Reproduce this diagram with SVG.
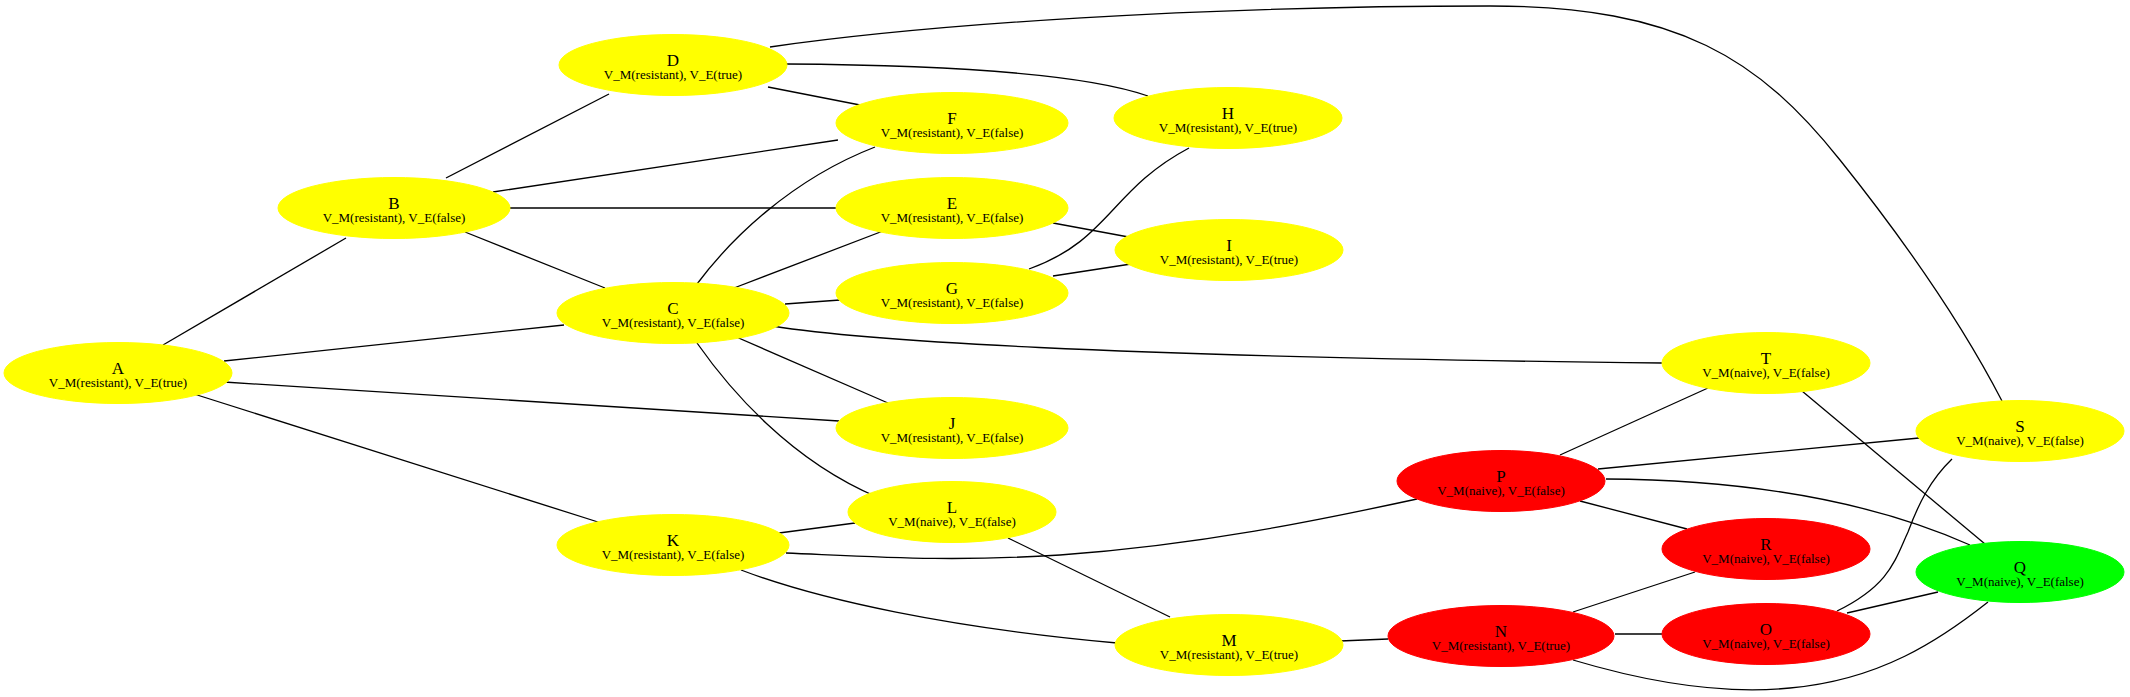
<svg xmlns="http://www.w3.org/2000/svg" width="2130" height="697" viewBox="0 0 2130 697">
<style>
.e{fill:none;stroke:#000;stroke-width:1.3}
.y{fill:#ffff00;stroke:#ffff00}
.r{fill:#ff0000;stroke:#ff0000}
.g{fill:#00ff00;stroke:#00ff00}
.t{font-family:"Liberation Serif","Times New Roman",serif;font-size:17px;text-anchor:middle;fill:#000}
.s{font-family:"Liberation Serif","Times New Roman",serif;font-size:13px;text-anchor:middle;fill:#000}
</style>
<rect width="2130" height="697" fill="#fff"/>
<g id="edges">
<path class="e" d="M163,345 L346,238"/>
<path class="e" d="M224,361 L564,325"/>
<path class="e" d="M224,382 L839,421"/>
<path class="e" d="M194,394 L598,522"/>
<path class="e" d="M446,178 L609,94"/>
<path class="e" d="M493,192 L838,140"/>
<path class="e" d="M510,208 L836,208"/>
<path class="e" d="M465,232 L605,288"/>
<path class="e" d="M768,87 L860,105"/>
<path class="e" d="M786,64 C930,65 1080,72 1148,96"/>
<path class="e" d="M770,47 C930,24 1200,6 1490,6 C1680,6 1760,60 1840,160 C1900,235 1960,320 2002,401"/>
<path class="e" d="M697,284 C730,240 790,180 875,147"/>
<path class="e" d="M734,288 L883,231"/>
<path class="e" d="M785,304 L840,300"/>
<path class="e" d="M772,326 C860,340 1100,357 1662,363"/>
<path class="e" d="M734,336 L888,403"/>
<path class="e" d="M697,343 C730,390 790,460 877,497"/>
<path class="e" d="M1053,223 L1134,238"/>
<path class="e" d="M1029,269 C1110,240 1110,190 1189,148"/>
<path class="e" d="M1053,276 L1131,264"/>
<path class="e" d="M779,533 L855,523"/>
<path class="e" d="M786,553 C880,557 950,562 1060,555 C1200,545 1320,520 1417,499"/>
<path class="e" d="M741,570 C820,600 950,628 1117,643"/>
<path class="e" d="M1008,538 L1170,617"/>
<path class="e" d="M1340,641 L1388,639"/>
<path class="e" d="M1573,612 L1695,572"/>
<path class="e" d="M1615,634 L1662,634"/>
<path class="e" d="M1573,660 C1640,680 1720,695 1790,688 C1880,680 1940,640 1988,602"/>
<path class="e" d="M1560,455 L1708,388"/>
<path class="e" d="M1598,469 L1919,438"/>
<path class="e" d="M1606,479 C1760,480 1880,505 1970,545"/>
<path class="e" d="M1580,501 L1687,529"/>
<path class="e" d="M1802,391 L1985,544"/>
<path class="e" d="M1837,611 C1890,585 1895,560 1908,532 C1918,505 1930,480 1952,459"/>
<path class="e" d="M1847,613 L1938,592"/>
</g>
<g id="A"><ellipse class="y" cx="118" cy="373" rx="114" ry="30.5"/><text class="t" x="118" y="374">A</text><text class="s" x="118" y="387">V_M(resistant), V_E(true)</text></g>
<g id="B"><ellipse class="y" cx="394" cy="208" rx="116" ry="30.5"/><text class="t" x="394" y="209">B</text><text class="s" x="394" y="222">V_M(resistant), V_E(false)</text></g>
<g id="C"><ellipse class="y" cx="673" cy="313" rx="116" ry="30.5"/><text class="t" x="673" y="314">C</text><text class="s" x="673" y="327">V_M(resistant), V_E(false)</text></g>
<g id="D"><ellipse class="y" cx="673" cy="65" rx="114" ry="30.5"/><text class="t" x="673" y="66">D</text><text class="s" x="673" y="79">V_M(resistant), V_E(true)</text></g>
<g id="E"><ellipse class="y" cx="952" cy="208" rx="116" ry="30.5"/><text class="t" x="952" y="209">E</text><text class="s" x="952" y="222">V_M(resistant), V_E(false)</text></g>
<g id="F"><ellipse class="y" cx="952" cy="123" rx="116" ry="30.5"/><text class="t" x="952" y="124">F</text><text class="s" x="952" y="137">V_M(resistant), V_E(false)</text></g>
<g id="G"><ellipse class="y" cx="952" cy="293" rx="116" ry="30.5"/><text class="t" x="952" y="294">G</text><text class="s" x="952" y="307">V_M(resistant), V_E(false)</text></g>
<g id="H"><ellipse class="y" cx="1228" cy="118" rx="114" ry="30.5"/><text class="t" x="1228" y="119">H</text><text class="s" x="1228" y="132">V_M(resistant), V_E(true)</text></g>
<g id="I"><ellipse class="y" cx="1229" cy="250" rx="114" ry="30.5"/><text class="t" x="1229" y="251">I</text><text class="s" x="1229" y="264">V_M(resistant), V_E(true)</text></g>
<g id="J"><ellipse class="y" cx="952" cy="428" rx="116" ry="30.5"/><text class="t" x="952" y="429">J</text><text class="s" x="952" y="442">V_M(resistant), V_E(false)</text></g>
<g id="K"><ellipse class="y" cx="673" cy="545" rx="116" ry="30.5"/><text class="t" x="673" y="546">K</text><text class="s" x="673" y="559">V_M(resistant), V_E(false)</text></g>
<g id="L"><ellipse class="y" cx="952" cy="512" rx="104" ry="30.5"/><text class="t" x="952" y="513">L</text><text class="s" x="952" y="526">V_M(naive), V_E(false)</text></g>
<g id="M"><ellipse class="y" cx="1229" cy="645" rx="114" ry="30.5"/><text class="t" x="1229" y="646">M</text><text class="s" x="1229" y="659">V_M(resistant), V_E(true)</text></g>
<g id="N"><ellipse class="r" cx="1501" cy="636" rx="113" ry="30.5"/><text class="t" x="1501" y="637">N</text><text class="s" x="1501" y="650">V_M(resistant), V_E(true)</text></g>
<g id="O"><ellipse class="r" cx="1766" cy="634" rx="104" ry="30.5"/><text class="t" x="1766" y="635">O</text><text class="s" x="1766" y="648">V_M(naive), V_E(false)</text></g>
<g id="P"><ellipse class="r" cx="1501" cy="481" rx="104" ry="30.5"/><text class="t" x="1501" y="482">P</text><text class="s" x="1501" y="495">V_M(naive), V_E(false)</text></g>
<g id="Q"><ellipse class="g" cx="2020" cy="572" rx="104" ry="30.5"/><text class="t" x="2020" y="573">Q</text><text class="s" x="2020" y="586">V_M(naive), V_E(false)</text></g>
<g id="R"><ellipse class="r" cx="1766" cy="549" rx="104" ry="30.5"/><text class="t" x="1766" y="550">R</text><text class="s" x="1766" y="563">V_M(naive), V_E(false)</text></g>
<g id="S"><ellipse class="y" cx="2020" cy="431" rx="104" ry="30.5"/><text class="t" x="2020" y="432">S</text><text class="s" x="2020" y="445">V_M(naive), V_E(false)</text></g>
<g id="T"><ellipse class="y" cx="1766" cy="363" rx="104" ry="30.5"/><text class="t" x="1766" y="364">T</text><text class="s" x="1766" y="377">V_M(naive), V_E(false)</text></g>
</svg>
